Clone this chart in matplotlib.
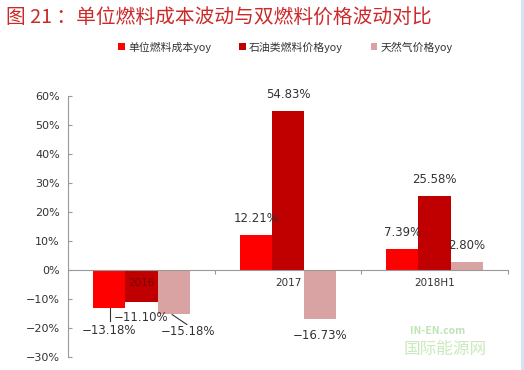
import numpy as np
import matplotlib.pyplot as plt
from matplotlib.patches import Patch
from matplotlib.lines import Line2D

plt.rcParams["font.family"] = ["Noto Sans CJK SC", "DejaVu Sans"]

categories = ["2016", "2017", "2018H1"]
series_names = ["单位燃料成本yoy", "石油类燃料价格yoy", "天然气价格yoy"]
unit_cost = [-13.18, 12.21, 7.39]
oil_price = [-11.10, 54.83, 25.58]
gas_price = [-15.18, -16.73, 2.80]
y_ticks = [-30, -20, -10, 0, 10, 20, 30, 40, 50, 60]

colors = ["#ff0000", "#c00000", "#d9a3a3"]
series = [unit_cost, oil_price, gas_price]

fig = plt.figure(figsize=(5.24, 3.70), dpi=100)
ax = fig.add_axes([0.130, 0.035, 0.839, 0.706])

x = np.arange(len(categories))
w = 0.22
offsets = [-w, 0, w]
for vals, c, off in zip(series, colors, offsets):
    ax.bar(x + off, vals, width=w, color=c, zorder=2)

ax.set_xlim(-0.5, 2.5)
ax.set_ylim(-30, 60)
ax.set_yticks(y_ticks)
ax.set_yticklabels([f"{v}%".replace("-", "\u2212") for v in y_ticks],
                   fontsize=8, color="#333333", family="DejaVu Sans")
ax.tick_params(axis="y", direction="in", length=3, color="#999999", pad=6)

for s in ["top", "right"]:
    ax.spines[s].set_visible(False)
ax.spines["left"].set_color("#999999")
ax.spines["bottom"].set_position(("data", 0))
ax.spines["bottom"].set_color("#999999")
ax.set_xticks([0.5, 1.5, 2.5])
ax.set_xticklabels([])
ax.tick_params(axis="x", direction="out", length=3, color="#999999")

# category labels at the zero line
for i, c in enumerate(categories):
    col = "#7a0000" if i == 0 else "#333333"
    ax.text(i, -4.5, c, ha="center", va="center", fontsize=7.5, color=col,
            family="DejaVu Sans", zorder=3)

lab_kw = dict(ha="center", va="center", fontsize=8.5, color="#333333",
              family="DejaVu Sans")


def fmt(v):
    return f"{v:.2f}%".replace("-", "\u2212")


# 2017 and 2018H1 labels
for i in [1, 2]:
    for vals, off in zip(series, offsets):
        v = vals[i]
        if v >= 0:
            ax.text(i + off, v + 5.5, fmt(v), **lab_kw)
        else:
            ax.text(i + off, v - 6, fmt(v), **lab_kw)

# 2016 labels with leader lines
ax.text(0 - w, -21.0, fmt(unit_cost[0]), **lab_kw)
ax.plot([-w + 0.005, -w + 0.005], [unit_cost[0], unit_cost[0] - 4.3],
        color="#333333", lw=0.8)
ax.text(0, -16.5, fmt(oil_price[0]), **lab_kw)
ax.text(w + 0.1, -21.3, fmt(gas_price[0]), **lab_kw)
ax.plot([w - 0.01, w + 0.09], [gas_price[0] - 0.2, gas_price[0] - 3.6],
        color="#333333", lw=0.8)

# title
fig.text(0.011, 0.953, "图 21 ：单位燃料成本波动与双燃料价格波动对比",
         fontsize=14.2, color="#cc2a2a", ha="left", va="center")

# legend
handles = [Patch(facecolor=c, edgecolor="none") for c in colors]
fig.legend(handles, series_names, loc="center", bbox_to_anchor=(0.545, 0.873),
           ncol=3, frameon=False, fontsize=7.8, handlelength=0.6, handleheight=0.6,
           handletextpad=0.3, columnspacing=2.6, labelcolor="#333333")

# watermark
fig.text(0.835, 0.105, "IN-EN.com", fontsize=7.5, color="#bfe3b2",
         style="italic", weight="bold", ha="center", va="center")
fig.text(0.85, 0.055, "国际能源网", fontsize=12, color="#cbe9bd",
         style="italic", ha="center", va="center")

# light frame edge on the right
fig.add_artist(Line2D([0.997, 0.997], [0, 1], transform=fig.transFigure,
                      color="#cfe3f0", lw=2))

fig.savefig("out.png", dpi=100)
